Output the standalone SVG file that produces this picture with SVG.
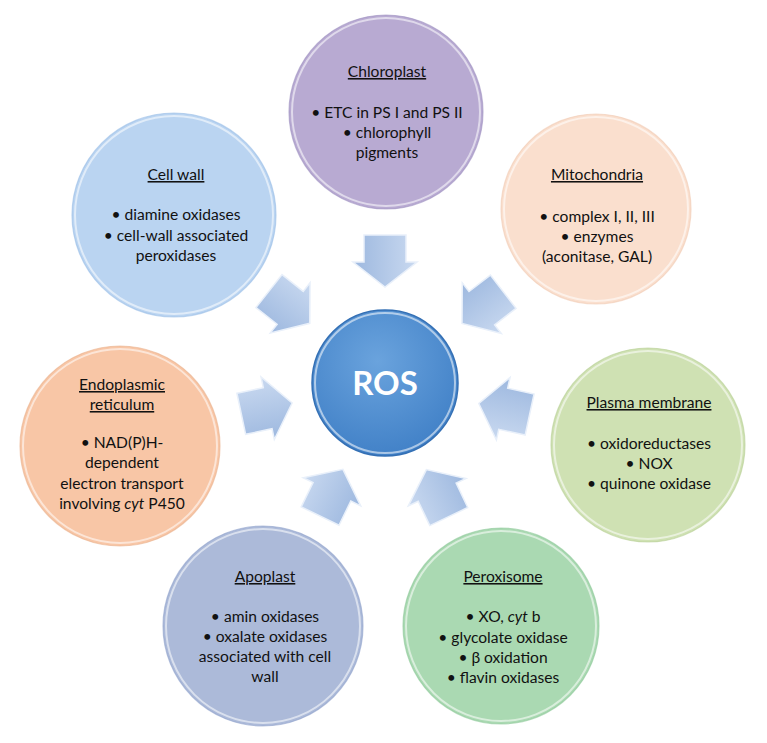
<svg xmlns="http://www.w3.org/2000/svg" width="767" height="743" viewBox="0 0 767 743">
<defs>
<style>
.t{font-family:Lato,"Liberation Sans",sans-serif;font-size:15.6px;fill:#111111;text-anchor:middle}
.h{text-decoration:underline}
.rim{fill:none;stroke:#ffffff;stroke-opacity:0.55;stroke-width:2}
.edge{stroke-width:1.2;stroke-opacity:0.6}
.arr{fill:url(#ga);stroke:#e9f0fa;stroke-width:1.5;stroke-linejoin:miter}
</style>
<linearGradient id="ga" x1="0" y1="0" x2="0" y2="1">
<stop offset="0" stop-color="#c9d9f0"/>
<stop offset="1" stop-color="#9db8df"/>
</linearGradient>
<radialGradient id="gros" cx="0.45" cy="0.35" r="0.7">
<stop offset="0" stop-color="#6aa3dd"/>
<stop offset="1" stop-color="#3f7fc6"/>
</radialGradient>
<polygon id="arrow" points="-26,-21 1,-21 1,-32 26,0 1,32 1,21 -26,21"/>
</defs>
<rect width="767" height="743" fill="#ffffff"/>

<g id="connectors">
<use href="#arrow" class="arr" transform="translate(385,261) rotate(90)"/>
<use href="#arrow" class="arr" transform="translate(289.4,307.2) rotate(38.4)"/>
<use href="#arrow" class="arr" transform="translate(482.6,307.6) rotate(142.4)"/>
<use href="#arrow" class="arr" transform="translate(266.7,408.4) rotate(-12)"/>
<use href="#arrow" class="arr" transform="translate(504.2,409) rotate(192.3)"/>
<use href="#arrow" class="arr" transform="translate(331.5,492.7) rotate(-64)"/>
<use href="#arrow" class="arr" transform="translate(437.6,493.1) rotate(-115.5)"/>
</g>

<g id="ros">
<circle cx="385" cy="383" r="73" fill="url(#gros)" stroke="#3470b5" stroke-width="1.5"/>
<circle cx="385" cy="383" r="70" class="rim" stroke-opacity="0.35"/>
<text x="385" y="395" style="font-family:Lato,'Liberation Sans',sans-serif;font-size:33px;font-weight:bold;fill:#ffffff;text-anchor:middle">ROS</text>
</g>

<g id="chloroplast">
<circle cx="386" cy="112" r="97" fill="#b8aad2" class="edge" stroke="#9d8fbf"/>
<circle cx="386" cy="112" r="94" class="rim"/>
<text class="t h" x="387" y="77">Chloroplast</text>
<text class="t" x="387" y="118">• ETC in PS I and PS II</text>
<text class="t" x="387" y="138">• chlorophyll</text>
<text class="t" x="387" y="158">pigments</text>
</g>

<g id="mitochondria">
<circle cx="596" cy="209" r="95" fill="#fadfce" class="edge" stroke="#f0c9b3"/>
<circle cx="596" cy="209" r="92" class="rim"/>
<text class="t h" x="597" y="180">Mitochondria</text>
<text class="t" x="597" y="222">• complex I, II, III</text>
<text class="t" x="597" y="242">• enzymes</text>
<text class="t" x="597" y="262">(aconitase, GAL)</text>
</g>

<g id="cellwall">
<circle cx="174" cy="215" r="102" fill="#bad4f1" class="edge" stroke="#98bde6"/>
<circle cx="174" cy="215" r="99" class="rim"/>
<text class="t h" x="176" y="180">Cell wall</text>
<text class="t" x="176" y="220">• diamine oxidases</text>
<text class="t" x="176" y="241">• cell-wall associated</text>
<text class="t" x="176" y="261">peroxidases</text>
</g>

<g id="er">
<circle cx="120" cy="446" r="100" fill="#f8c6a6" class="edge" stroke="#eab08c"/>
<circle cx="120" cy="446" r="97" class="rim"/>
<text class="t h" x="122" y="390">Endoplasmic</text>
<text class="t h" x="122" y="410">reticulum</text>
<text class="t" x="122" y="448">• NAD(P)H-</text>
<text class="t" x="122" y="468">dependent</text>
<text class="t" x="122" y="489">electron transport</text>
<text class="t" x="122" y="509">involving <tspan font-style="italic">cyt</tspan> P450</text>
</g>

<g id="plasma">
<circle cx="648" cy="445" r="97" fill="#cfe1b3" class="edge" stroke="#b5cf92"/>
<circle cx="648" cy="445" r="94" class="rim"/>
<text class="t h" x="649" y="408">Plasma membrane</text>
<text class="t" x="649" y="449">• oxidoreductases</text>
<text class="t" x="649" y="469">• NOX</text>
<text class="t" x="649" y="489">• quinone oxidase</text>
</g>

<g id="apoplast">
<circle cx="263" cy="626" r="100" fill="#acbad9" class="edge" stroke="#8fa2cc"/>
<circle cx="263" cy="626" r="97" class="rim"/>
<text class="t h" x="265" y="582">Apoplast</text>
<text class="t" x="265" y="622">• amin oxidases</text>
<text class="t" x="265" y="642">• oxalate oxidases</text>
<text class="t" x="265" y="662">associated with cell</text>
<text class="t" x="265" y="682">wall</text>
</g>

<g id="peroxisome">
<circle cx="501" cy="626" r="98" fill="#aad9b2" class="edge" stroke="#8cc897"/>
<circle cx="501" cy="626" r="95" class="rim"/>
<text class="t h" x="503" y="582">Peroxisome</text>
<text class="t" x="503" y="622">• XO, <tspan font-style="italic">cyt</tspan> b</text>
<text class="t" x="503" y="643">• glycolate oxidase</text>
<text class="t" x="503" y="663">• β oxidation</text>
<text class="t" x="503" y="683">• flavin oxidases</text>
</g>
</svg>
